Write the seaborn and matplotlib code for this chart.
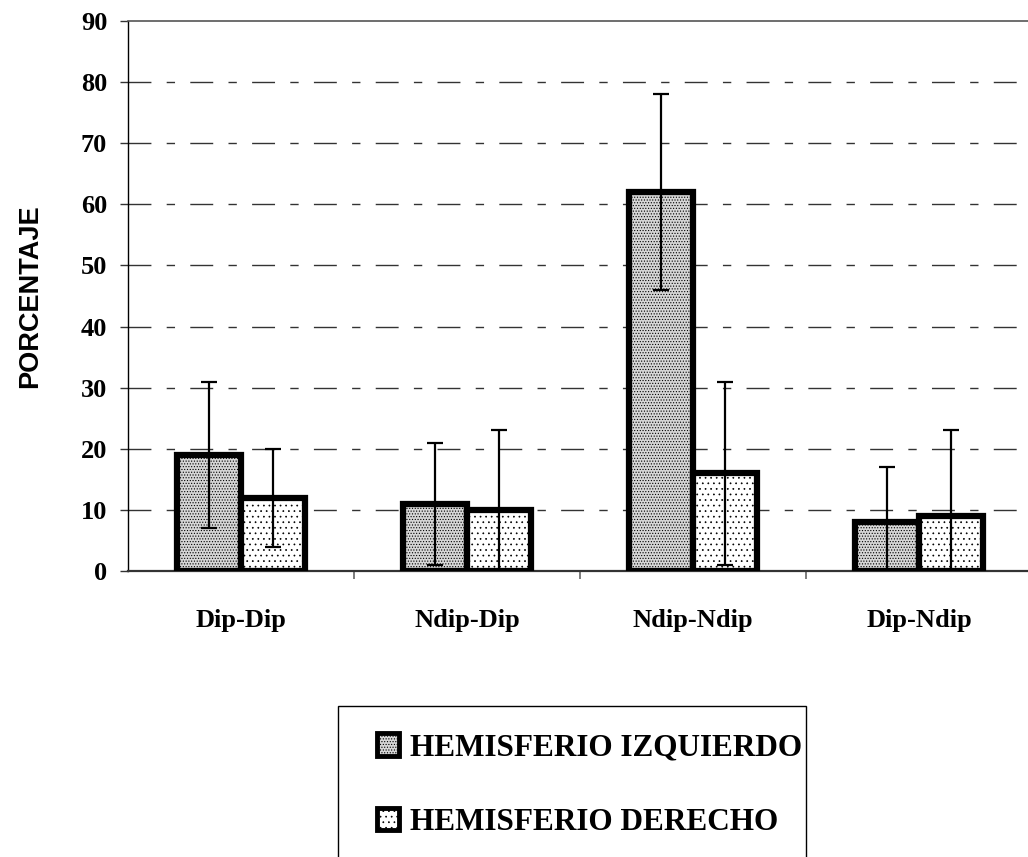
import matplotlib
matplotlib.use("Agg")
import matplotlib.pyplot as plt
from matplotlib.patches import Rectangle, Patch
import seaborn as sns
import pandas as pd

categories = ["Dip-Dip", "Ndip-Dip", "Ndip-Ndip", "Dip-Ndip"]
hemispheres = ["HEMISFERIO IZQUIERDO", "HEMISFERIO DERECHO"]
izquierdo = [19, 11, 62, 8]
derecho = [12, 10, 16, 9]
err_izquierdo = [12, 10, 16, 9]
err_derecho = [8, 13, 15, 14]
y_ticks = [0, 10, 20, 30, 40, 50, 60, 70, 80, 90]

df = pd.DataFrame({
    "grupo": categories * 2,
    "hemisferio": [hemispheres[0]] * 4 + [hemispheres[1]] * 4,
    "porcentaje": izquierdo + derecho,
    "error": err_izquierdo + err_derecho,
})

sns.set_theme(style="white")
plt.rcParams["font.family"] = ["Liberation Serif", "DejaVu Serif"]
plt.rcParams["hatch.linewidth"] = 0.5
plt.rcParams["hatch.color"] = "black"
for key in ["text.color", "axes.labelcolor", "xtick.color", "ytick.color"]:
    plt.rcParams[key] = "black"

fill_izq = "#d6d6d6"
hatch_izq = "......"
hatch_der = "..."

W, H = 1028, 857
fig = plt.figure(figsize=(W / 100, H / 100), dpi=100)
ax = fig.add_axes([128 / W, (H - 571) / H, (1032 - 128) / W, (571 - 21) / H])

sns.barplot(data=df, x="grupo", y="porcentaje", hue="hemisferio",
            order=categories, hue_order=hemispheres, width=0.57,
            palette=[fill_izq, "white"], edgecolor="black", linewidth=4.5,
            errorbar=None, legend=False, ax=ax, zorder=3)

n = len(categories)
bars = ax.patches[: 2 * n]
for i, bar in enumerate(bars):
    bar.set_hatch(hatch_izq if i < n else hatch_der)

# error bars centred on each bar
for i, bar in enumerate(bars):
    xc = bar.get_x() + bar.get_width() / 2
    ax.errorbar(xc, df["porcentaje"].iloc[i], yerr=df["error"].iloc[i],
                fmt="none", ecolor="black", elinewidth=1.6, capsize=5.8,
                capthick=1.6, zorder=4)

ax.set_xlim(-0.5, 3.5)
ax.set_ylim(0, 90)
ax.set_yticks(y_ticks)
ax.set_yticklabels([str(t) for t in y_ticks], fontsize=19, fontweight="bold")
ax.tick_params(axis="y", direction="out", length=6, width=1, color="#333333",
               pad=9, left=True)
ax.set_xticks(range(n))
ax.set_xticklabels(categories, fontsize=19, fontweight="bold")
ax.tick_params(axis="x", which="major", length=0, pad=27)
ax.set_xticks([0.5, 1.5, 2.5], minor=True)
ax.tick_params(axis="x", which="minor", direction="out", length=6, width=1.2,
               color="#666666", bottom=True)
ax.set_xlabel("")
ax.set_ylabel("PORCENTAJE", fontsize=19.5, fontweight="bold",
              family=["Liberation Sans", "DejaVu Sans"], labelpad=27)

for y in y_ticks[1:-1]:
    ax.axhline(y, color="#333333", lw=1.0,
               linestyle=(0, (16.5, 11, 6, 11)), zorder=1)

ax.spines["right"].set_visible(False)
ax.spines["top"].set_color("#555555")
ax.spines["top"].set_linewidth(1.2)
ax.spines["left"].set_color("black")
ax.spines["left"].set_linewidth(1.0)
ax.spines["bottom"].set_color("#333333")
ax.spines["bottom"].set_linewidth(1.6)

# legend box
fig.patches.append(Rectangle((338 / W, -0.05), (806 - 338) / W, (H - 706) / H + 0.05,
                             transform=fig.transFigure, facecolor="white",
                             edgecolor="black", lw=1.0, zorder=0))
handles = [Patch(facecolor=fill_izq, edgecolor="black", hatch=hatch_izq, lw=3.5),
           Patch(facecolor="white", edgecolor="black", hatch=hatch_der, lw=3.5)]
fig.legend(handles, hemispheres, loc="center left",
           bbox_to_anchor=(361 / W, (H - 785) / H), frameon=False,
           prop={"family": ["Liberation Serif"], "weight": "bold", "size": 22.5},
           handlelength=0.72, handleheight=0.72, handletextpad=0.35,
           labelspacing=1.45, borderpad=0)

fig.savefig("out.png", dpi=100)
